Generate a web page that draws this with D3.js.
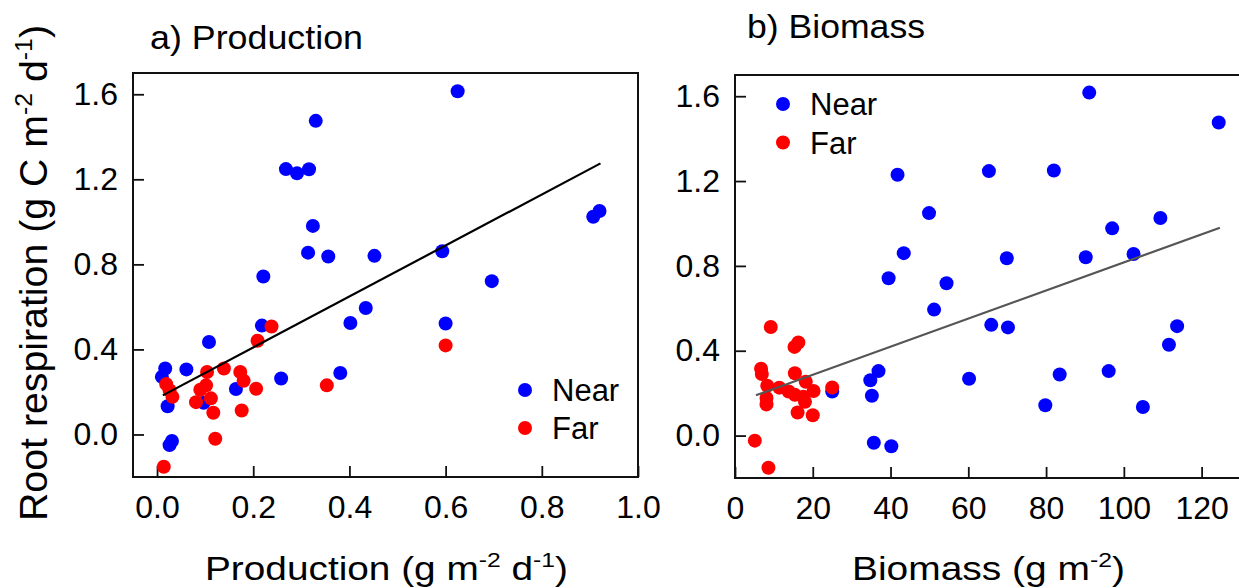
<!DOCTYPE html>
<html>
<head>
<meta charset="utf-8">
<script src="https://cdn.jsdelivr.net/npm/d3@7"></script>
<style>
  html, body { margin: 0; padding: 0; background: #fff; }
  svg { display: block; font-family: "Liberation Sans", Arial, sans-serif; }
</style>
</head>
<body>
<svg id="chart" width="1239" height="588"></svg>
<script>
// ── Data ───────────────────────────────────────────────────

// a) Production  [production g m-2 d-1, root respiration g C m-2 d-1]
var prodNear = [
  [0.330, 1.475], [0.268, 1.248], [0.291, 1.228], [0.316, 1.247], [0.324, 0.981],
  [0.314, 0.855], [0.356, 0.837], [0.452, 0.840], [0.221, 0.743], [0.434, 0.595],
  [0.402, 0.524], [0.218, 0.512], [0.108, 0.435], [0.017, 0.310], [0.061, 0.306],
  [0.010, 0.271], [0.258, 0.263], [0.381, 0.289], [0.164, 0.214], [0.097, 0.149],
  [0.022, 0.133], [0.031, -0.031], [0.026, -0.050], [0.625, 1.614], [0.593, 0.862],
  [0.696, 0.721], [0.600, 0.522], [0.907, 1.024], [0.920, 1.051]
];
var prodFar = [
  [0.238, 0.508], [0.209, 0.441], [0.104, 0.294], [0.139, 0.310], [0.173, 0.294],
  [0.180, 0.253], [0.019, 0.237], [0.026, 0.208], [0.032, 0.177], [0.102, 0.231],
  [0.090, 0.210], [0.112, 0.170], [0.081, 0.152], [0.206, 0.215], [0.117, 0.102],
  [0.176, 0.113], [0.121, -0.020], [0.014, -0.152], [0.353, 0.231], [0.600, 0.419]
];
// fitted line end points
var prodFitX = [0.012, 0.922];
var prodFitY = [0.184, 1.275];

// b) Biomass  [biomass g m-2, root respiration]
var bioNear = [
  [41.8, 1.230], [49.9, 1.049], [43.4, 0.860], [39.5, 0.742], [54.4, 0.718],
  [51.2, 0.594], [60.2, 0.268], [36.9, 0.304], [34.8, 0.261], [35.2, 0.188],
  [25.0, 0.208], [35.7, -0.034], [40.2, -0.050], [91.1, 1.617], [124.4, 1.476],
  [65.3, 1.247], [82.0, 1.250], [109.4, 1.026], [97.0, 0.977], [69.9, 0.836],
  [90.2, 0.841], [102.5, 0.856], [65.9, 0.522], [70.2, 0.510], [113.7, 0.516],
  [111.6, 0.428], [83.5, 0.288], [96.1, 0.304], [79.8, 0.143], [104.9, 0.135]
];
var bioFar = [
  [9.2, 0.512], [15.3, 0.418], [16.3, 0.439], [6.7, 0.315], [6.9, 0.290],
  [15.4, 0.294], [8.3, 0.235], [11.4, 0.226], [13.8, 0.208], [15.4, 0.192],
  [18.2, 0.254], [20.2, 0.210], [17.6, 0.183], [18.0, 0.159], [8.1, 0.177],
  [8.1, 0.147], [16.1, 0.109], [20.0, 0.096], [25.0, 0.227], [5.1, -0.024],
  [8.6, -0.152]
];
var bioFitX = [5.4, 124.7];
var bioFitY = [0.190, 0.980];

// axes
var yTicks = [0, 0.4, 0.8, 1.2, 1.6];
var yTickLabels = ["0.0", "0.4", "0.8", "1.2", "1.6"];
var prodTicks = [0, 0.2, 0.4, 0.6, 0.8, 1.0];
var prodTickLabels = ["0.0", "0.2", "0.4", "0.6", "0.8", "1.0"];
var bioTicks = [0, 20, 40, 60, 80, 100, 120];
var bioTickLabels = ["0", "20", "40", "60", "80", "100", "120"];

var seriesNames = ["Near", "Far"];
var seriesColors = ["#0000ff", "#ff0000"];

// ── Drawing ────────────────────────────────────────────────

var svg = d3.select("#chart");
var tickFs = 32;
var r = 7;

// text with raised superscript parts; the shift back down goes on the next part
function addParts(textSel, parts, supFs, rise) {
  var pending = 0;
  parts.forEach(function(part) {
    var ts = textSel.append("tspan").text(part.t);
    if (part.sup) {
      ts.attr("dy", -rise + pending).style("font-size", supFs + "px");
      pending = rise;
    } else {
      if (pending) ts.attr("dy", pending);
      pending = 0;
    }
  });
}

function drawPanel(opt) {
  var x = d3.scaleLinear().domain(opt.xDomain).range([opt.left, opt.right]);
  var y = d3.scaleLinear().domain([-0.2, 1.7]).range([opt.bottom, opt.top]);
  var g = svg.append("g");

  // bottom axis, ticks pointing inward
  g.append("g")
    .attr("transform", "translate(0," + opt.bottom + ")")
    .call(d3.axisBottom(x).tickValues(opt.xTicks)
      .tickFormat(function(d, i) { return opt.xTickLabels[i]; })
      .tickSize(-11).tickPadding(18))
    .call(function(a) { a.select(".domain").remove(); })
    .call(function(a) {
      a.selectAll("line").attr("stroke", "#111").attr("stroke-width", 1.8);
      a.selectAll("text").style("font-size", tickFs + "px").attr("fill", "#000")
        .style("font-family", "'Liberation Sans', Arial, sans-serif");
    });

  // left axis
  g.append("g")
    .attr("transform", "translate(" + opt.left + ",0)")
    .call(d3.axisLeft(y).tickValues(yTicks)
      .tickFormat(function(d, i) { return yTickLabels[i]; })
      .tickSize(-11).tickPadding(15))
    .call(function(a) { a.select(".domain").remove(); })
    .call(function(a) {
      a.selectAll("line").attr("stroke", "#111").attr("stroke-width", 1.8);
      a.selectAll("text").style("font-size", tickFs + "px").attr("fill", "#000")
        .style("font-family", "'Liberation Sans', Arial, sans-serif");
    });

  // frame
  g.append("rect")
    .attr("x", opt.left).attr("y", opt.top)
    .attr("width", opt.right - opt.left).attr("height", opt.bottom - opt.top)
    .attr("fill", "none").attr("stroke", "#111").attr("stroke-width", 2);

  // points: Near first, Far on top
  [opt.near, opt.far].forEach(function(pts, si) {
    g.append("g").selectAll("circle")
      .data(pts)
      .enter().append("circle")
      .attr("cx", function(d) { return x(d[0]); })
      .attr("cy", function(d) { return y(d[1]); })
      .attr("r", r)
      .attr("fill", seriesColors[si]);
  });

  // regression line
  g.append("line")
    .attr("x1", x(opt.fitX[0])).attr("y1", y(opt.fitY[0]))
    .attr("x2", x(opt.fitX[1])).attr("y2", y(opt.fitY[1]))
    .attr("stroke", opt.fitColor).attr("stroke-width", 2.2);

  // legend
  seriesNames.forEach(function(name, i) {
    var ly = opt.legendY + i * opt.legendGap;
    g.append("circle")
      .attr("cx", opt.legendX).attr("cy", ly).attr("r", r)
      .attr("fill", seriesColors[i]);
    g.append("text")
      .attr("x", opt.legendX + 27).attr("y", ly + 11)
      .style("font-size", "31px").attr("fill", "#000")
      .text(name);
  });

  // panel title
  g.append("text")
    .attr("x", opt.titleX).attr("y", opt.titleY)
    .attr("textLength", opt.titleLen).attr("lengthAdjust", "spacingAndGlyphs")
    .style("font-size", "33px").attr("fill", "#000")
    .text(opt.title);

  // x-axis label with superscripts
  var xl = g.append("text")
    .attr("x", opt.xLabelX).attr("y", 580)
    .attr("textLength", opt.xLabelLen).attr("lengthAdjust", "spacingAndGlyphs")
    .style("font-size", "33px").attr("fill", "#000");
  addParts(xl, opt.xLabel, 21, 13);
}

drawPanel({
  left: 133, right: 638, top: 73, bottom: 477,
  xDomain: [-0.05, 1.0], xTicks: prodTicks, xTickLabels: prodTickLabels,
  near: prodNear, far: prodFar,
  fitX: prodFitX, fitY: prodFitY, fitColor: "#000",
  legendX: 525, legendY: 390, legendGap: 38,
  title: "a) Production", titleX: 150, titleY: 49, titleLen: 213,
  xLabel: [{t: "Production (g m"}, {t: "-2", sup: true}, {t: " d"}, {t: "-1", sup: true}, {t: ")"}],
  xLabelX: 205, xLabelLen: 363
});

drawPanel({
  left: 735, right: 1240.5, top: 75, bottom: 478,
  xDomain: [0, 130], xTicks: bioTicks, xTickLabels: bioTickLabels,
  near: bioNear, far: bioFar,
  fitX: bioFitX, fitY: bioFitY, fitColor: "#555",
  legendX: 783, legendY: 104, legendGap: 38.5,
  title: "b) Biomass", titleX: 747, titleY: 38, titleLen: 178,
  xLabel: [{t: "Biomass (g m"}, {t: "-2", sup: true}, {t: ")"}],
  xLabelX: 852, xLabelLen: 273
});

// ── Shared y-axis label ───────────────────────────────────

var yl = svg.append("text")
  .attr("transform", "translate(47,521) rotate(-90)")
  .attr("textLength", 496).attr("lengthAdjust", "spacingAndGlyphs")
  .style("font-size", "38px").attr("fill", "#000");
addParts(yl, [{t: "Root respiration (g C m"}, {t: "-2", sup: true}, {t: " d"}, {t: "-1", sup: true}, {t: ")"}], 24, 15);
</script>
</body>
</html>
